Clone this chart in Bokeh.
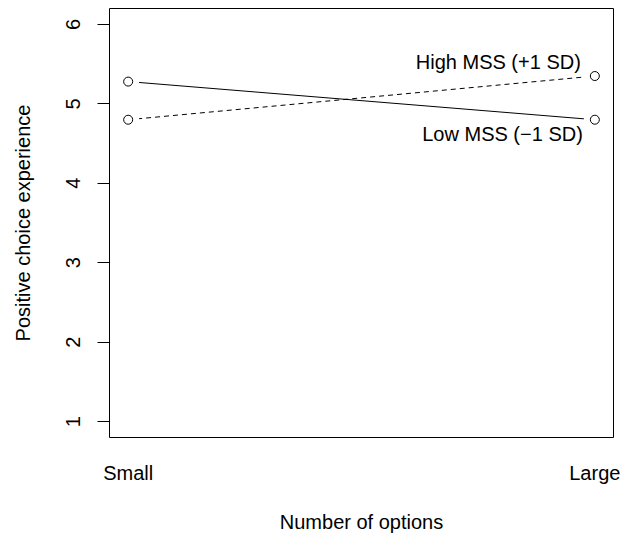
from bokeh.plotting import figure
from bokeh.models import Range1d, FixedTicker, ColumnDataSource
from bokeh.core.properties import value
from bokeh.embed import file_html
from bokeh.resources import INLINE

# Data
options = [1, 2]
option_labels = ["Small", "Large"]
low_mss = [5.28, 4.80]    # Low MSS (-1 SD), solid
high_mss = [4.80, 5.35]   # High MSS (+1 SD), dashed
y_ticks = [1, 2, 3, 4, 5, 6]

FONT = "Liberation Sans"
FS = "20px"

p = figure(width=632, height=536, output_backend="svg", toolbar_location=None,
           x_range=Range1d(0.96, 2.04), y_range=Range1d(0.8, 6.2),
           min_border_left=109, min_border_right=19, min_border_top=8,
           min_border_bottom=99)

p.xgrid.visible = False
p.ygrid.visible = False
p.outline_line_color = "black"
p.outline_line_width = 1
p.background_fill_color = "white"
p.border_fill_color = "white"

# Lines
p.line(options, low_mss, line_color="black", line_width=1)
p.line(options, high_mss, line_color="black", line_width=1, line_dash="5 4")

# gaps around points (type = "b")
all_x = options + options
all_y = low_mss + high_mss
p.scatter(all_x, all_y, size=22, fill_color="white", line_color=None)
p.scatter(all_x, all_y, size=9, fill_color="white", line_color="black", line_width=1)

# Labels near right end
src_hi = ColumnDataSource(dict(x=[options[1]], y=[high_mss[1]], t=["High MSS (+1 SD)"]))
src_lo = ColumnDataSource(dict(x=[options[1]], y=[low_mss[1]], t=["Low MSS (\u22121 SD)"]))
p.text(x="x", y="y", text="t", source=src_hi, x_offset=-14, y_offset=-14,
       text_align="right", text_baseline="alphabetic",
       text_font=value(FONT), text_font_size=FS, text_color="black")
p.text(x="x", y="y", text="t", source=src_lo, x_offset=-12, y_offset=14,
       text_align="right", text_baseline="alphabetic",
       text_font=value(FONT), text_font_size=FS, text_color="black")

# Y axis
ya = p.yaxis[0]
ya.ticker = FixedTicker(ticks=y_ticks)
ya.bounds = (1, 6)
ya.axis_line_color = "black"
ya.major_tick_line_color = "black"
ya.major_tick_out = 12
ya.major_tick_in = 0
ya.minor_tick_line_color = None
ya.major_label_orientation = "vertical"
ya.major_label_standoff = 17
ya.major_label_text_font = FONT
ya.major_label_text_font_size = FS
ya.major_label_text_color = "black"
ya.axis_label = "Positive choice experience"
ya.axis_label_text_font = FONT
ya.axis_label_text_font_size = FS
ya.axis_label_text_font_style = "normal"
ya.axis_label_text_color = "black"
ya.axis_label_standoff = 30

# X axis
xa = p.xaxis[0]
xa.ticker = FixedTicker(ticks=options)
xa.major_label_overrides = {o: l for o, l in zip(options, option_labels)}
xa.axis_line_color = None
xa.major_tick_line_color = None
xa.major_tick_out = 0
xa.major_tick_in = 0
xa.minor_tick_line_color = None
xa.major_label_standoff = 24
xa.major_label_text_font = FONT
xa.major_label_text_font_size = FS
xa.major_label_text_color = "black"
xa.axis_label = "Number of options"
xa.axis_label_text_font = FONT
xa.axis_label_text_font_size = FS
xa.axis_label_text_font_style = "normal"
xa.axis_label_text_color = "black"
xa.axis_label_standoff = 24

open("out.html", "w").write(file_html(p, INLINE))
